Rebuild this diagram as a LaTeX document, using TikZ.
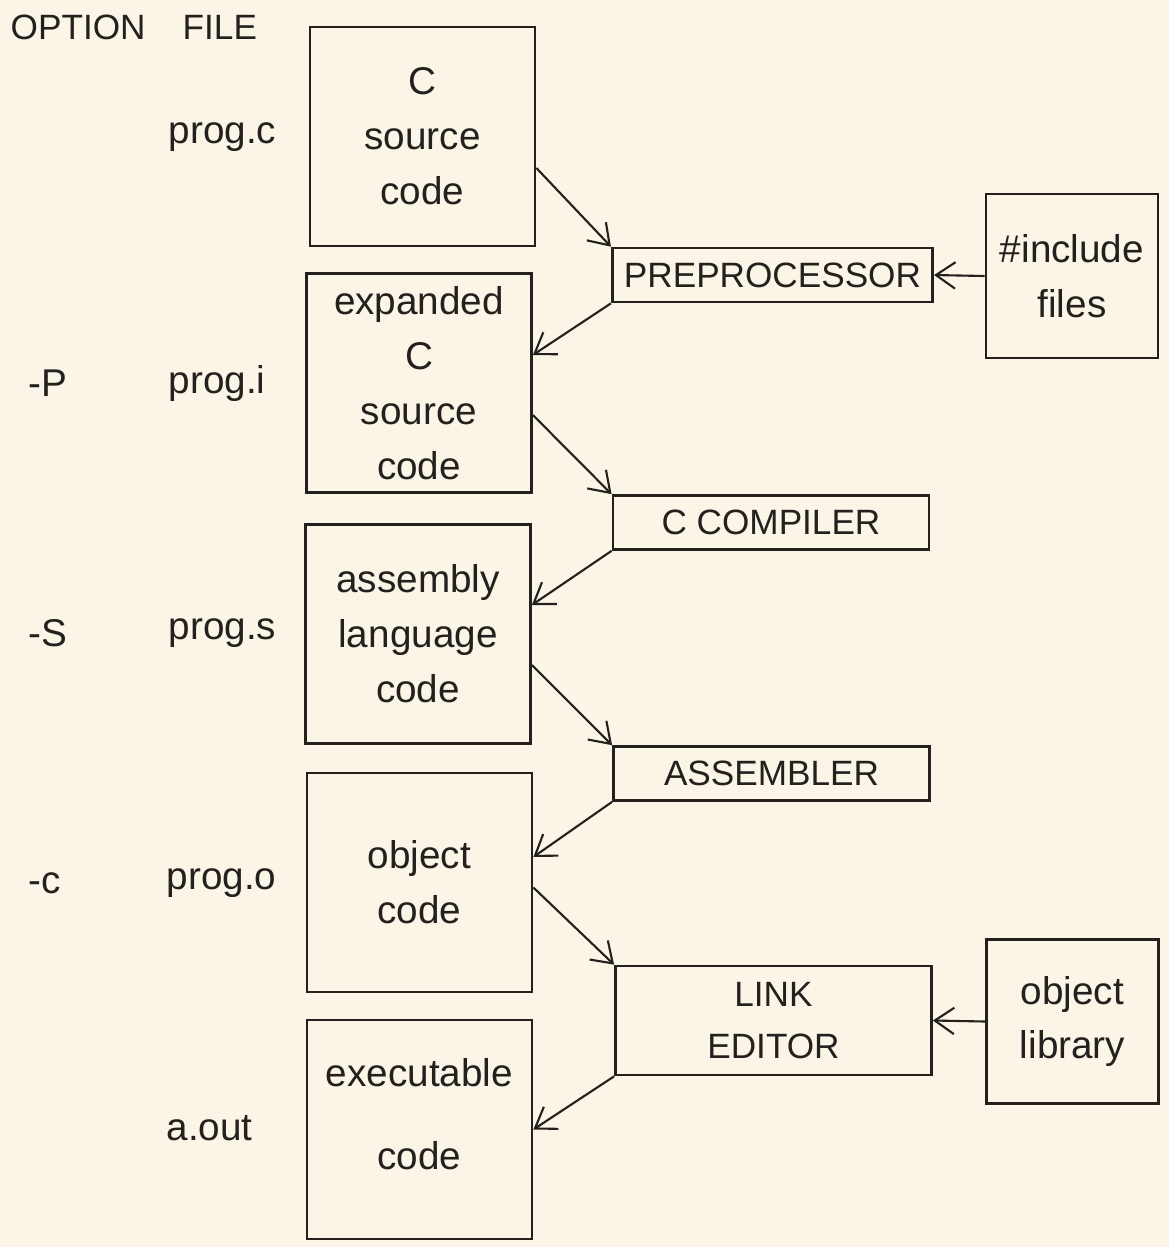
\documentclass[tikz,border=0pt]{standalone}
\usepackage{fontspec}
\setmainfont{Liberation Sans}
\usetikzlibrary{arrows.meta}
\definecolor{paper}{RGB}{250,245,230}
\definecolor{ink}{RGB}{35,32,30}

\begin{document}
\begin{tikzpicture}[x=0.01cm,y=-0.01cm,color=ink,
  >={Straight Barb[length=5.5pt,width=7.5pt]},
  file node/.style={rectangle,draw,line width=.75pt,minimum width=2.25cm,minimum height=2.19cm,
    align=center,font=\fontsize{11}{15.6}\selectfont},
  step node/.style={rectangle,draw,line width=.75pt,minimum width=3.16cm,minimum height=.54cm,
    align=center,font=\fontsize{10}{15}\selectfont},
  lib node/.style={rectangle,draw,line width=.75pt,minimum width=1.72cm,minimum height=1.64cm,
    align=center,font=\fontsize{11}{15.6}\selectfont},
  tag/.style={anchor=west,inner sep=0pt,font=\fontsize{11}{13}\selectfont}]

  \fill[paper] (0,0) rectangle (1169,1247);
  \useasboundingbox (0,0) rectangle (1169,1247);

  \node[tag,font=\fontsize{10}{12}\selectfont] (option) at (10,27) {OPTION};
  \node[tag,font=\fontsize{10}{12}\selectfont] (file) at (182,27) {FILE};

  \node[file node] (c) at (422.5,136.5) {C\\source\\code};
  \node[file node] (i) at (419,383) {expanded\\C\\source\\code};
  \node[file node] (s) at (418,634) {assembly\\language\\code};
  \node[file node] (o) at (419.5,882.5) {object\\code};
  \node[file node] (aout) at (419.5,1129.5) {executable\\[8pt]code\\[-7pt]\mbox{}};

  \node[tag] (nc) at (168,137) {prog.c};
  \node[tag] (optp) at (28,383) {-P};
  \node[tag] (ni) at (168,383) {prog.i};
  \node[tag] (opts) at (28,633) {-S};
  \node[tag] (ns) at (168,633) {prog.s};
  \node[tag] (optc) at (28,883) {-c};
  \node[tag] (no) at (166,883) {prog.o};
  \node[tag] (na) at (166,1128) {a.out};

  \node[step node] (pre) at (772.5,275) {PREPROCESSOR};
  \node[step node] (comp) at (771,522.5) {C COMPILER};
  \node[step node] (asm) at (771.5,773.5) {ASSEMBLER};
  \node[step node,minimum height=1.09cm] (link) at (773.5,1020.5) {LINK\\EDITOR};

  \node[lib node] (inc) at (1072,276) {\#include\\files};
  \node[lib node] (lib) at (1072.5,1021.5) {object\\library};

  \path[->,line width=.6pt]
  ([yshift=-.315cm]c.east) edge (pre.north west)
  (pre.south west) edge ([yshift=.28cm]i.east)
  ([yshift=-.32cm]i.east) edge (comp.north west)
  (comp.south west) edge ([yshift=.29cm]s.east)
  ([yshift=-.31cm]s.east) edge (asm.north west)
  (asm.south west) edge ([yshift=.255cm]o.east)
  ([yshift=-.05cm]o.east) edge (link.north west)
  (link.south west) edge (aout.east)
  (inc.west) edge (pre.east)
  (lib.west) edge (link.east);
\end{tikzpicture}
\end{document}
